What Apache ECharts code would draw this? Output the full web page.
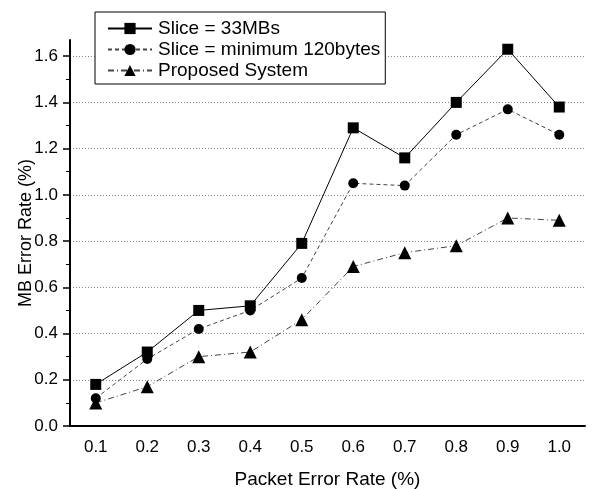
<!DOCTYPE html>
<html>
<head>
<meta charset="utf-8">
<script src="https://cdn.jsdelivr.net/npm/echarts@6/dist/echarts.min.js"></script>
<style>
html,body{margin:0;padding:0;background:#fff;}
#chart{width:592px;height:489px;}
</style>
</head>
<body>
<div id="chart"></div>
<script>
var categories = ['0.1','0.2','0.3','0.4','0.5','0.6','0.7','0.8','0.9','1.0'];
var slice33 = [0.18, 0.32, 0.50, 0.52, 0.79, 1.29, 1.16, 1.40, 1.63, 1.38];
var sliceMin120 = [0.12, 0.29, 0.42, 0.50, 0.64, 1.05, 1.04, 1.26, 1.37, 1.26];
var proposed = [0.10, 0.17, 0.30, 0.32, 0.46, 0.69, 0.75, 0.78, 0.90, 0.89];
var yTicks = [0, 0.2, 0.4, 0.6, 0.8, 1.0, 1.2, 1.4, 1.6];
var seriesNames = ['Slice = 33MBs', 'Slice = minimum 120bytes', 'Proposed System'];

var font = 'Liberation Sans, Arial, sans-serif';
var chart = echarts.init(document.getElementById('chart'), null, {renderer: 'canvas'});
chart.setOption({
  animation: false,
  backgroundColor: '#fff',
  textStyle: {fontFamily: font, color: '#000'},
  grid: {left: 70, right: 7, top: 40, bottom: 63, containLabel: false, outerBoundsMode: 'none'},
  legend: {
    orient: 'vertical',
    left: 95, top: 12,
    backgroundColor: '#fff',
    borderColor: '#000', borderWidth: 1,
    padding: [7, 5, 4, 12],
    itemWidth: 44, itemHeight: 14, itemGap: 2,
    textStyle: {fontFamily: font, fontSize: 19, color: '#000', padding: [0,0,0,1]},
    data: seriesNames
  },
  xAxis: {
    type: 'category',
    data: categories,
    boundaryGap: true,
    name: 'Packet Error Rate (%)',
    nameLocation: 'middle',
    nameGap: 44,
    nameMoveOverlap: false,
    nameTextStyle: {fontFamily: font, fontSize: 19, color: '#000'},
    axisLine: {lineStyle: {color: '#000', width: 2}},
    axisTick: {alignWithLabel: true, length: 7, lineStyle: {color: '#000', width: 1.5}},
    axisLabel: {fontFamily: font, fontSize: 17, color: '#000', margin: 13},
    splitLine: {show: false}
  },
  yAxis: {
    type: 'value',
    min: 0, max: 1.67, interval: 0.2,
    name: 'MB Error Rate (%)',
    nameLocation: 'middle',
    nameGap: 35,
    nameRotate: 90,
    nameMoveOverlap: false,
    nameTextStyle: {fontFamily: font, fontSize: 18, color: '#000'},
    axisLine: {show: true, lineStyle: {color: '#000', width: 2}},
    axisTick: {show: true, length: 7, customValues: yTicks, lineStyle: {color: '#000', width: 1.5}},
    minorTick: {show: true, splitNumber: 2, length: 4, lineStyle: {color: '#000', width: 1}},
    axisLabel: {fontFamily: font, fontSize: 17, color: '#000', margin: 12, customValues: yTicks,
      formatter: function (v) { return v.toFixed(1); }},
    splitLine: {show: true, lineStyle: {color: '#888', width: 1, type: [1, 2]}}
  },
  series: [
    {
      name: seriesNames[0], type: 'line', data: slice33,
      symbol: 'rect', symbolSize: 11,
      itemStyle: {color: '#000'},
      lineStyle: {color: '#000', width: 1, type: 'solid'}
    },
    {
      name: seriesNames[1], type: 'line', data: sliceMin120,
      symbol: 'circle', symbolSize: 10,
      itemStyle: {color: '#000'},
      lineStyle: {color: '#444', width: 1, type: [4, 3]}
    },
    {
      name: seriesNames[2], type: 'line', data: proposed,
      symbol: 'triangle', symbolSize: 13,
      itemStyle: {color: '#000'},
      lineStyle: {color: '#444', width: 1, type: [6, 3, 1, 3]}
    }
  ]
});
</script>
</body>
</html>
